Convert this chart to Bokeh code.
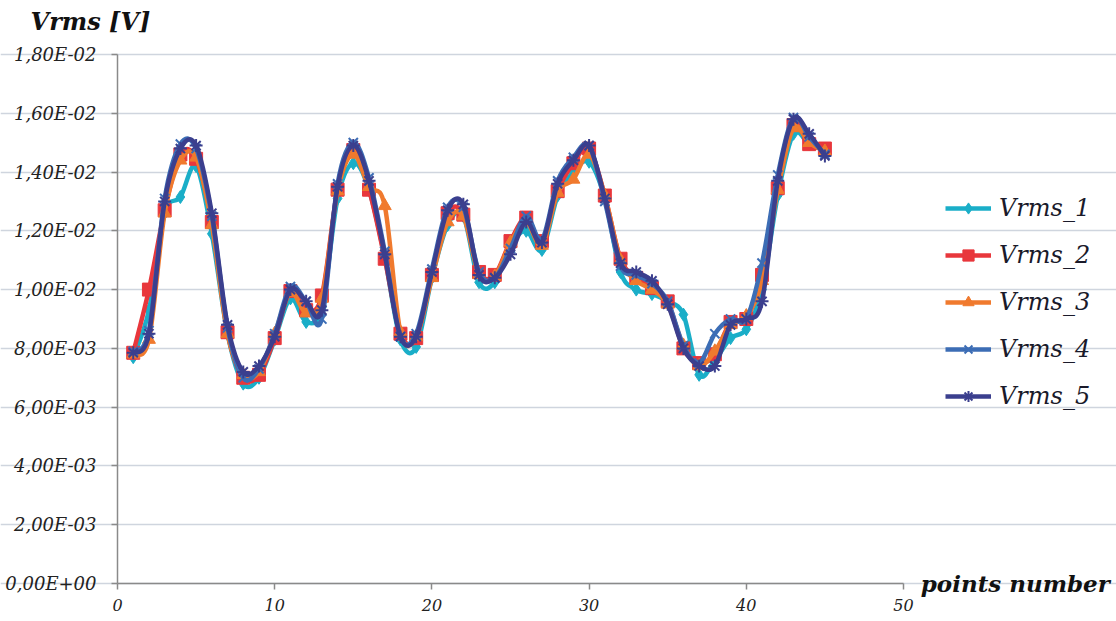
import numpy as np
from bokeh.plotting import figure
from bokeh.models import (Legend, LegendItem, Label, FixedTicker, CustomJSTickFormatter,
                          ColumnDataSource, Range1d, LinearAxis)
from bokeh.embed import file_html
from bokeh.resources import INLINE

# ---- data (values in units of 1e-3 V) ----
points = list(range(1, 46))
vrms_1 = [7.7, 9.3, 12.6, 13.15, 14.2, 11.9, 8.5, 6.8, 7.0, 8.3,
          9.7, 8.9, 9.4, 13.1, 14.3, 13.4, 11.1, 8.3, 8.05, 10.4,
          12.2, 12.5, 10.25, 10.25, 11.5, 12.0, 11.35, 13.2, 14.0, 14.35,
          13.1, 10.6, 10.0, 9.85, 9.6, 9.15, 7.1, 7.6, 8.35, 8.65,
          10.0, 13.2, 15.3, 14.95, 14.75]
vrms_2 = [7.85, 10.0, 12.7, 14.6, 14.45, 12.3, 8.55, 7.0, 7.1, 8.35,
          9.95, 9.3, 9.8, 13.4, 14.75, 13.4, 11.05, 8.5, 8.35, 10.5,
          12.6, 12.55, 10.6, 10.5, 11.65, 12.45, 11.65, 13.35, 14.3, 14.8,
          13.2, 11.05, 10.4, 10.05, 9.6, 8.0, 7.5, 7.8, 8.9, 9.0,
          10.5, 13.45, 15.6, 14.95, 14.8]
vrms_3 = [7.8, 8.3, 12.6, 14.4, 14.5, 12.2, 8.5, 7.1, 7.2, 8.5,
          9.9, 9.2, 9.7, 13.35, 14.6, 13.5, 12.85, 8.55, 8.4, 10.4,
          12.3, 12.5, 10.5, 10.45, 11.6, 12.3, 11.5, 13.3, 13.75, 14.6,
          13.2, 11.0, 10.3, 10.0, 9.5, 8.1, 7.4, 7.9, 8.8, 9.1,
          10.3, 13.4, 15.5, 15.0, 14.7]
vrms_4 = [7.9, 8.6, 13.1, 14.95, 14.8, 12.5, 8.7, 7.0, 7.3, 8.5,
          10.1, 9.6, 9.0, 13.6, 15.0, 13.8, 11.3, 8.4, 8.5, 10.7,
          12.8, 12.8, 10.6, 10.4, 11.4, 12.5, 11.7, 13.7, 14.5, 14.9,
          13.0, 10.8, 10.5, 10.2, 9.6, 8.1, 7.5, 8.5, 9.0, 9.0,
          10.9, 13.9, 15.85, 15.2, 14.6]
vrms_5 = [7.85, 8.5, 13.0, 14.8, 14.9, 12.6, 8.8, 7.2, 7.4, 8.4,
          10.0, 9.6, 9.3, 13.5, 14.9, 13.7, 11.2, 8.4, 8.4, 10.6,
          12.7, 12.9, 10.5, 10.4, 11.2, 12.3, 11.6, 13.6, 14.4, 14.9,
          13.1, 10.9, 10.6, 10.3, 9.5, 8.0, 7.4, 7.4, 8.8, 9.0,
          9.6, 13.7, 15.8, 15.3, 14.55]
series_names = ["Vrms_1", "Vrms_2", "Vrms_3", "Vrms_4", "Vrms_5"]
y_ticks = [0.0, 0.002, 0.004, 0.006, 0.008, 0.010, 0.012, 0.014, 0.016, 0.018]
x_ticks = [0, 10, 20, 30, 40, 50]
y_title = "Vrms [V]"
x_title = "points number"

# ---- styles ----
colors = ["#1aaec8", "#e8373c", "#f07a2e", "#3c6db5", "#3b3f8e"]
markers = ["diamond", "square", "triangle", "x", "asterisk"]
msizes = [13, 13, 13, 13, 13]
serif = "DejaVu Serif"

# the frame covers the whole canvas; axes are pinned at 0 with fixed_location
p = figure(width=1116, height=621, output_backend="svg", toolbar_location=None,
           x_range=Range1d(-7.443, 63.55), y_range=Range1d(-0.001293, 0.019837),
           x_axis_location=None, y_axis_location=None,
           min_border_left=0, min_border_right=0, min_border_top=0, min_border_bottom=0)
p.outline_line_color = None
p.background_fill_color = "white"
p.border_fill_color = "white"

xaxis = LinearAxis(fixed_location=0, bounds=(0, 50), ticker=FixedTicker(ticks=x_ticks))
yaxis = LinearAxis(fixed_location=0, bounds=(0, 0.018), ticker=FixedTicker(ticks=y_ticks))
p.add_layout(xaxis, "below")
p.add_layout(yaxis, "left")

p.xgrid.grid_line_color = None
p.ygrid.grid_line_color = "#cfd5de"
p.ygrid.grid_line_width = 1.5
p.ygrid.bounds = (0, 50)
p.ygrid.ticker = FixedTicker(ticks=y_ticks)

for ax in (xaxis, yaxis):
    ax.axis_line_color = "#8a8a8a"
    ax.axis_line_width = 1.5
    ax.major_tick_line_color = "#8a8a8a"
    ax.major_tick_line_width = 1.5
    ax.major_tick_out = 6
    ax.major_tick_in = 0
    ax.minor_tick_line_color = None
    ax.major_label_text_font = serif
    ax.major_label_text_font_style = "italic"
    ax.major_label_text_color = "#222222"

xaxis.major_label_text_font_size = "16px"
yaxis.major_label_text_font_size = "18px"
xaxis.major_label_standoff = 10
yaxis.major_label_standoff = 15
yaxis.formatter = CustomJSTickFormatter(code="""
    const s = tick.toExponential(2).replace('.', ',');
    return s.replace(/e([+-])(\\d+)$/, (m, sg, d) => 'E' + sg + (d.length < 2 ? '0' + d : d));
""")


def bezier_controls(xs, ys):
    xs = np.asarray(xs, float)
    ys = np.asarray(ys, float)
    n = len(xs)
    xp = np.concatenate([[xs[0]], xs, [xs[-1]]])
    yp = np.concatenate([[ys[0]], ys, [ys[-1]]])
    x0 = xs[:-1]; y0 = ys[:-1]; x1 = xs[1:]; y1 = ys[1:]
    cx0 = x0 + (xp[2:n + 1] - xp[0:n - 1]) / 6.0
    cy0 = y0 + (yp[2:n + 1] - yp[0:n - 1]) / 6.0
    cx1 = x1 - (xp[3:n + 2] - xp[1:n]) / 6.0
    cy1 = y1 - (yp[3:n + 2] - yp[1:n]) / 6.0
    return dict(x0=x0, y0=y0, x1=x1, y1=y1, cx0=cx0, cy0=cy0, cx1=cx1, cy1=cy1)


all_series = [vrms_1, vrms_2, vrms_3, vrms_4, vrms_5]
items = []
for name, vals, col, mk, ms in zip(series_names, all_series, colors, markers, msizes):
    yv = [v * 1e-3 for v in vals]
    src = ColumnDataSource(bezier_controls(points, yv))
    r_curve = p.bezier(x0="x0", y0="y0", x1="x1", y1="y1", cx0="cx0", cy0="cy0",
                       cx1="cx1", cy1="cy1", source=src, line_color=col, line_width=4.5)
    r_pts = p.scatter(points, yv, marker=mk, size=ms, fill_color=col, line_color=col,
                      line_width=2 if mk in ("x", "asterisk") else 1)
    items.append(LegendItem(label=name, renderers=[r_curve, r_pts]))

legend = Legend(items=items, location=(945, 211), orientation="vertical",
                label_text_font=serif, label_text_font_style="italic",
                label_text_font_size="24px", label_text_color="#1a1a2a",
                glyph_width=46, glyph_height=28, label_height=28, spacing=19,
                padding=0, margin=0, label_standoff=8,
                border_line_color=None, background_fill_alpha=0)
p.add_layout(legend, "center")

p.add_layout(Label(x=-1.72, y=0.01911, text=y_title,
                   text_font=serif, text_font_style="bold italic", text_font_size="24px",
                   text_align="center", text_baseline="middle", text_color="#111111"))
p.add_layout(Label(x=51.1, y=0.0, text=x_title,
                   text_font=serif, text_font_style="bold italic", text_font_size="23px",
                   text_align="left", text_baseline="middle", text_color="#111111"))

open("out.html", "w").write(file_html(p, INLINE))
